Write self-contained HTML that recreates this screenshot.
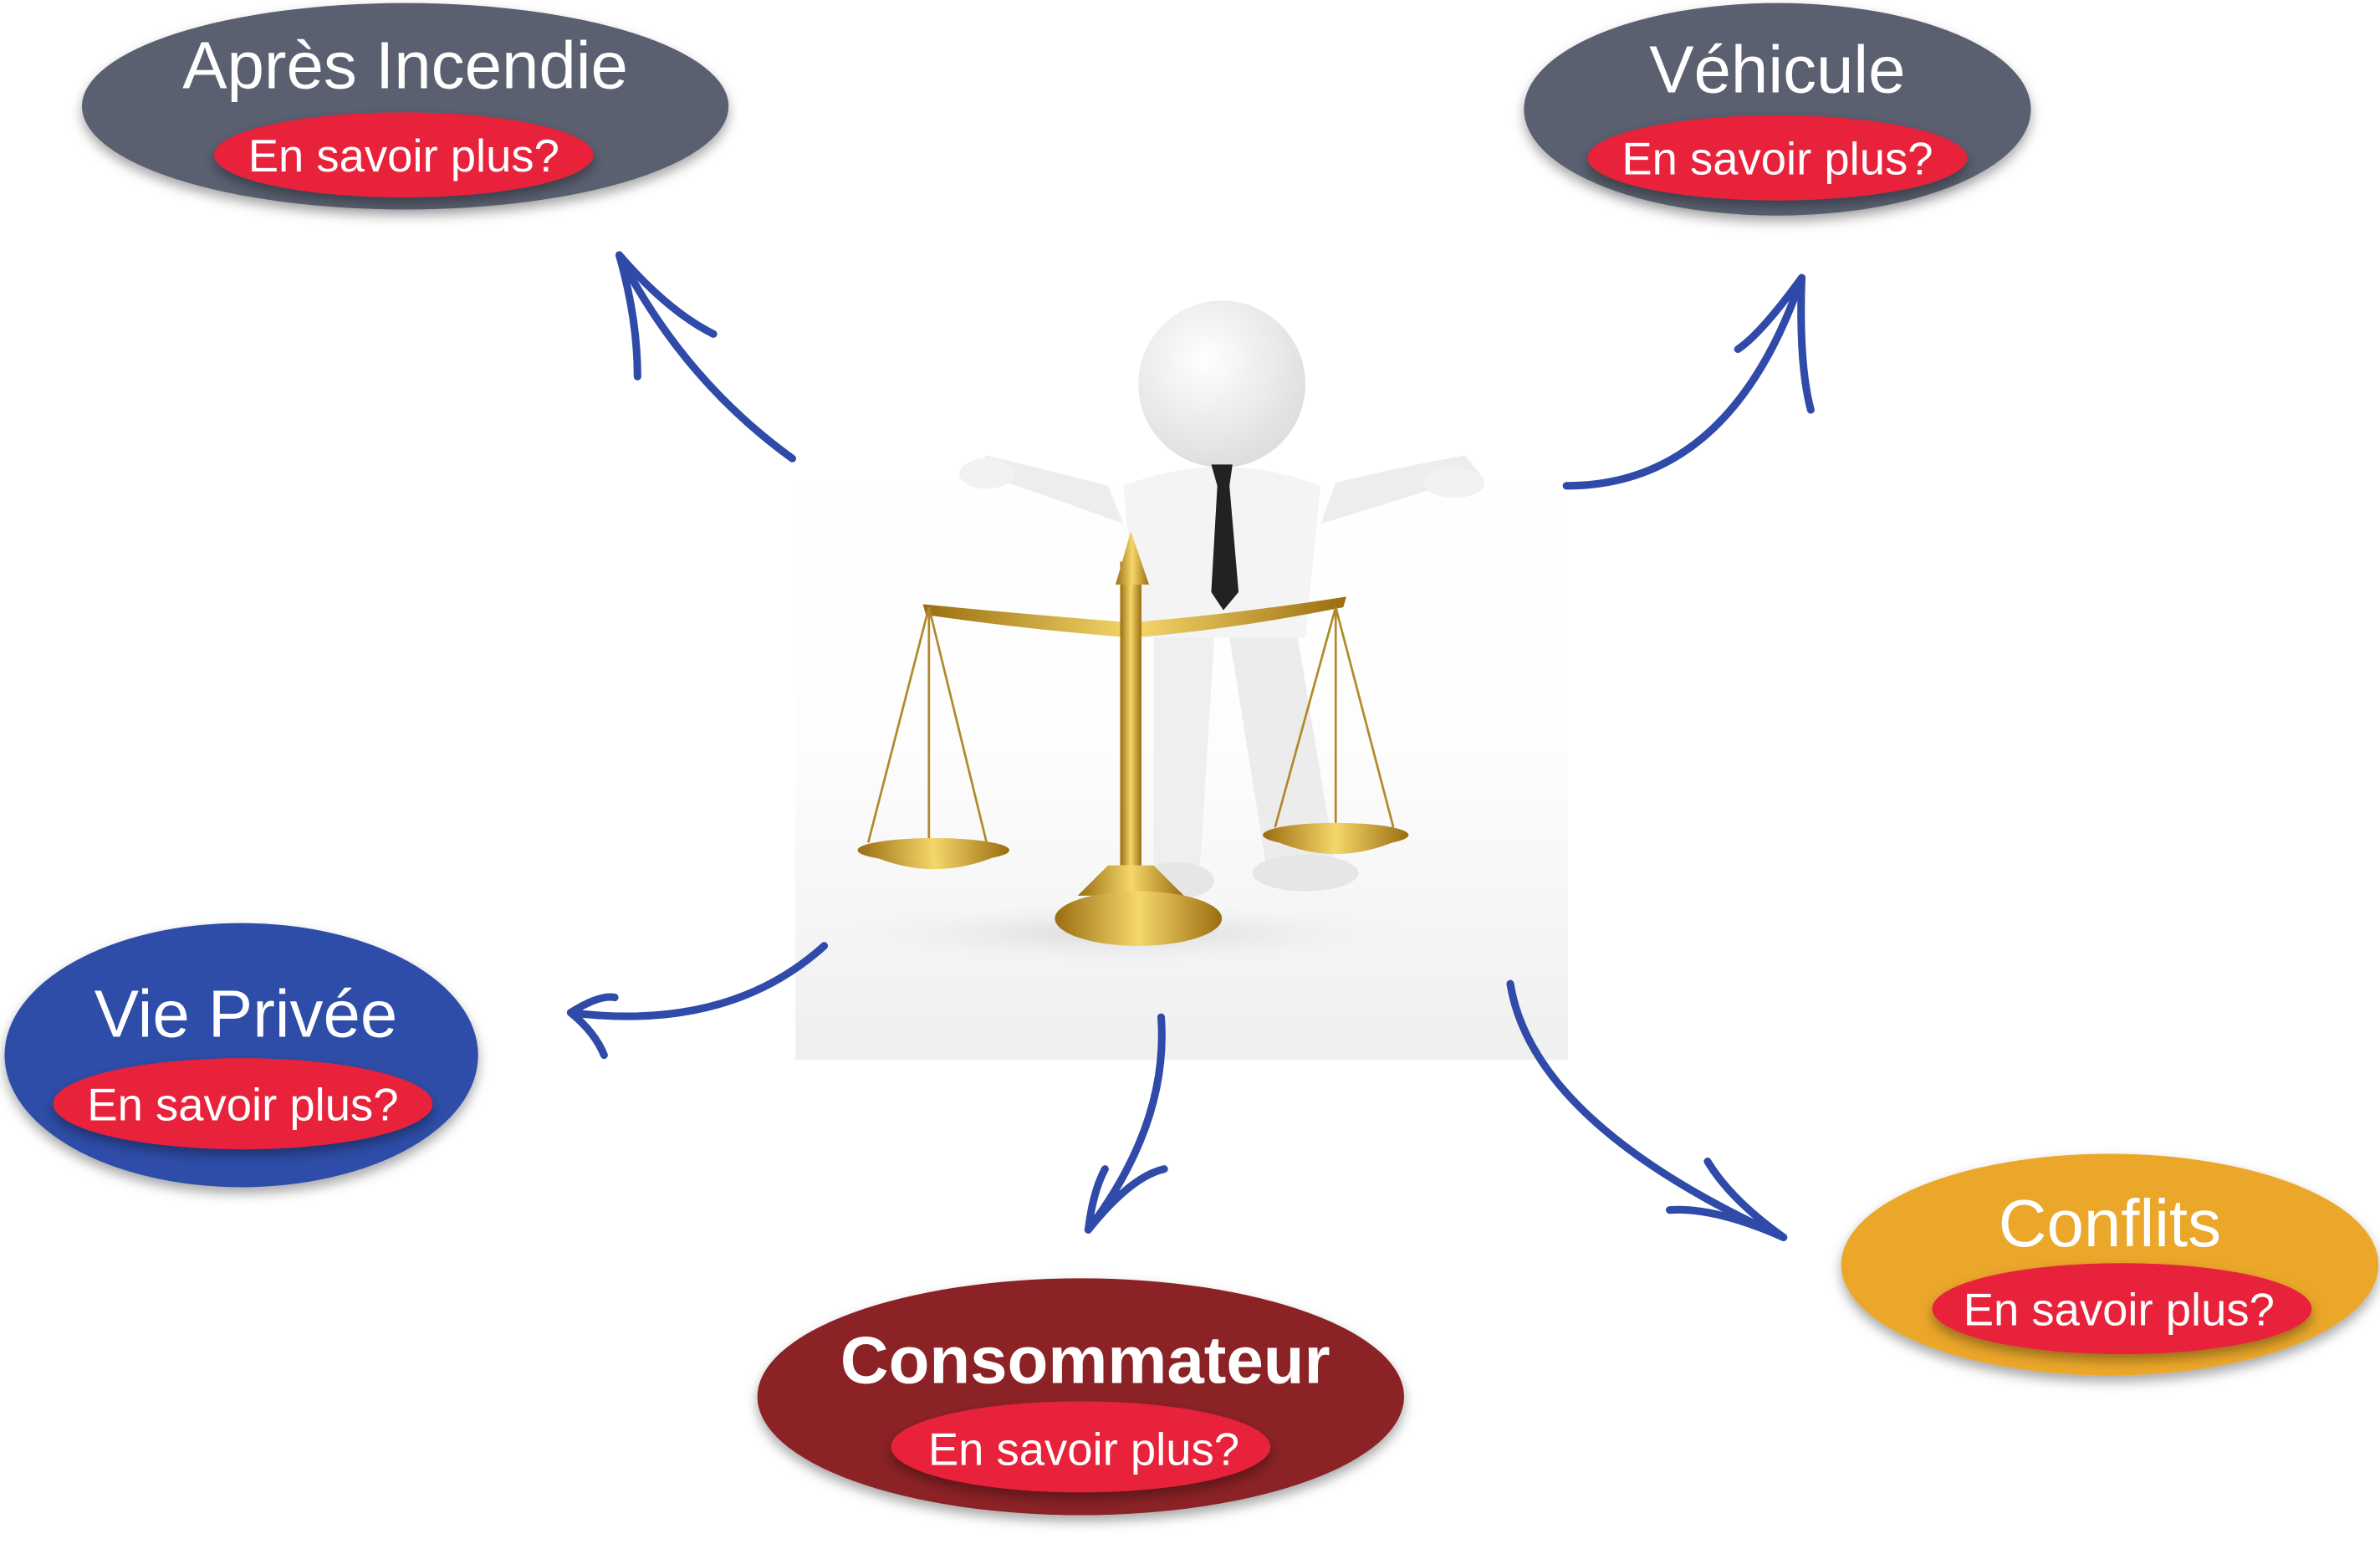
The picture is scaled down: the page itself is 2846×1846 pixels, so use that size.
<!DOCTYPE html>
<html><head><meta charset="utf-8"><style>
html,body{margin:0;padding:0;background:#fff;}
svg{display:block;}
text{font-family:"Liberation Sans",sans-serif;}
</style></head><body>
<svg width="2846" height="1846" viewBox="0 0 1568 1017" preserveAspectRatio="none" xmlns="http://www.w3.org/2000/svg">
<defs>
<linearGradient id="bg" x1="0" y1="0" x2="0" y2="1">
<stop offset="0" stop-color="#ffffff"/><stop offset="0.5" stop-color="#fdfdfd"/><stop offset="1" stop-color="#efefef"/>
</linearGradient>
<linearGradient id="gold" x1="0" y1="0" x2="1" y2="0">
<stop offset="0" stop-color="#9a6d10"/><stop offset="0.5" stop-color="#f5d76a"/><stop offset="1" stop-color="#9a6d10"/>
</linearGradient>
<radialGradient id="head" cx="0.4" cy="0.35" r="0.7">
<stop offset="0" stop-color="#ffffff"/><stop offset="1" stop-color="#dcdcdc"/>
</radialGradient>
<radialGradient id="floor" cx="0.5" cy="0.5" r="0.5">
<stop offset="0" stop-color="#d8d8d8"/><stop offset="1" stop-color="#f4f4f4" stop-opacity="0"/>
</radialGradient>
<filter id="sh" x="-20%" y="-20%" width="140%" height="150%"><feDropShadow dx="0" dy="4" stdDeviation="4" flood-opacity="0.35"/></filter>
</defs>

<rect x="524" y="290" width="509" height="408" fill="url(#bg)"/>
<ellipse cx="740" cy="615" rx="200" ry="22" fill="url(#floor)"/>
<path d="M640 310 Q700 330 740 345 L730 320 Q700 312 650 300 Z" fill="#ededed"/>
<path d="M975 312 Q920 330 870 345 L880 318 Q920 308 965 300 Z" fill="#ededed"/>
<ellipse cx="650" cy="312" rx="18" ry="10" fill="#f2f2f2"/>
<ellipse cx="958" cy="318" rx="20" ry="10" fill="#f2f2f2"/>
<path d="M740 320 Q805 295 870 320 L860 420 L750 420 Z" fill="#f4f4f4"/>
<path d="M760 420 L800 420 L790 580 L760 580 Z" fill="#efefef"/>
<path d="M810 420 L855 420 L880 570 L835 575 Z" fill="#ececec"/>
<ellipse cx="860" cy="575" rx="35" ry="12" fill="#e6e6e6"/>
<ellipse cx="775" cy="580" rx="25" ry="12" fill="#e6e6e6"/>
<circle cx="805" cy="253" r="55" fill="url(#head)"/>
<path d="M798 306 L812 306 L810 320 L816 390 L806 402 L798 390 L802 320 Z" fill="#222"/>
<path d="M608 398 Q680 405 745 410 Q810 405 887 393 L885 400 Q810 415 745 420 Q680 415 610 405 Z" fill="url(#gold)"/>
<path d="M612 400 L572 555 M612 400 L650 555 M612 400 L612 555" stroke="#b08a2a" stroke-width="1.5" fill="none"/>
<path d="M880 400 L840 545 M880 400 L918 545 M880 400 L880 545" stroke="#b08a2a" stroke-width="1.5" fill="none"/>
<path d="M567 560 Q615 585 665 560 Z" fill="url(#gold)"/><ellipse cx="615" cy="560" rx="50" ry="8" fill="url(#gold)"/>
<path d="M832 550 Q880 575 928 550 Z" fill="url(#gold)"/><ellipse cx="880" cy="550" rx="48" ry="8" fill="url(#gold)"/>
<rect x="738" y="370" width="14" height="200" fill="url(#gold)"/>
<path d="M735 385 L745 350 L757 385 Z" fill="url(#gold)"/>
<path d="M730 570 L760 570 L780 590 L710 590 Z" fill="url(#gold)"/>
<ellipse cx="750" cy="605" rx="55" ry="18" fill="url(#gold)"/>

<g stroke="#2f4aa8" stroke-width="5" fill="none" stroke-linecap="round">
<path d="M522 302 Q450 250 408 168"/><path d="M408 168 Q420 210 420 248"/><path d="M408 168 Q440 205 470 220"/>
<path d="M1032 320 Q1140 320 1187 183"/><path d="M1187 183 Q1160 220 1145 230"/><path d="M1187 183 Q1185 240 1193 270"/>
<path d="M543 623 Q480 680 376 667"/><path d="M376 667 Q395 655 405 657"/><path d="M376 667 Q392 680 398 695"/>
<path d="M765 670 Q770 740 717 810"/><path d="M717 810 Q720 785 728 770"/><path d="M717 810 Q745 775 767 770"/>
<path d="M995 648 Q1010 740 1175 815"/><path d="M1175 815 Q1130 795 1100 797"/><path d="M1175 815 Q1140 790 1125 765"/>
</g>

<g filter="url(#sh)">
<ellipse cx="267" cy="70" rx="213" ry="68" fill="#5a6070"/>
<ellipse cx="1171" cy="72" rx="167" ry="70" fill="#5a6070"/>
<ellipse cx="159" cy="695" rx="156" ry="87" fill="#2f4da8"/>
<ellipse cx="712" cy="920" rx="213" ry="78" fill="#8b2028"/>
<ellipse cx="1390" cy="833" rx="177" ry="73" fill="#eba72a"/>
</g>
<g fill="#e8203a" filter="url(#sh)">
<ellipse cx="266" cy="102" rx="125" ry="28"/>
<ellipse cx="1171" cy="104" rx="125" ry="28"/>
<ellipse cx="160" cy="727" rx="125" ry="30"/>
<ellipse cx="712" cy="953" rx="125" ry="30"/>
<ellipse cx="1398" cy="862" rx="125" ry="30"/>
</g>
<g fill="#fff" text-anchor="middle">
<text x="267" y="58" font-size="44">Après Incendie</text>
<text x="1171" y="61" font-size="44">Véhicule</text>
<text x="162" y="683" font-size="44">Vie Privée</text>
<text x="715" y="911" font-size="44" font-weight="bold">Consommateur</text>
<text x="1390" y="821" font-size="44">Conflits</text>
<g font-size="30">
<text x="266" y="113">En savoir plus?</text>
<text x="1171" y="115">En savoir plus?</text>
<text x="160" y="738">En savoir plus?</text>
<text x="714" y="965">En savoir plus?</text>
<text x="1396" y="873">En savoir plus?</text>
</g></g>
</svg>
</body></html>
